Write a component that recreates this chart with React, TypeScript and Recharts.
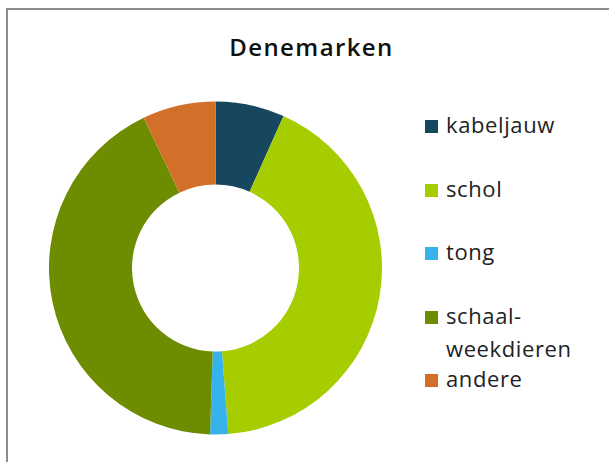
import React from 'react';
import { PieChart, Pie, Cell, Legend } from 'recharts';

const categories = ['kabeljauw', 'schol', 'tong', 'schaal-weekdieren', 'andere'];
const shares = [6.7, 42.1, 1.75, 42.4, 7.1];
const colors = ['#17475e', '#a5cd00', '#36b3ea', '#6e8c00', '#d2702a'];

const data = categories.map((name, i) => ({ name, value: shares[i] }));

const FONT = '"Open Sans", "Noto Sans", sans-serif';

// legend keeps the data order (recharts sorts the payload by name)
const renderLegend = () => (
  <div style={{ position: 'relative', fontFamily: FONT, fontSize: 22, lineHeight: '33px', color: '#222' }}>
    {categories.map((label, i) => {
      const lines = label.includes('-') ? [label.split('-')[0] + '-', label.split('-')[1]] : [label];
      return (
        <div key={label} style={{ position: 'absolute', left: 0, top: i * 63.5, width: 180 }}>
          <span
            style={{
              position: 'absolute',
              left: 0,
              top: 12,
              width: 13,
              height: 13,
              background: colors[i],
            }}
          />
          <div style={{ marginLeft: 21, letterSpacing: 0.6 }}>
            {lines.map((l) => (
              <div key={l}>{l}</div>
            ))}
          </div>
        </div>
      );
    })}
  </div>
);

export default function App() {
  return (
    <div style={{ position: 'fixed', left: 0, top: 0, width: 609, height: 462, overflow: 'hidden', background: '#fff' }}>
      <div
        style={{
          position: 'absolute',
          left: 6,
          top: 8,
          width: 700,
          height: 600,
          borderLeft: '2px solid #8c8c8c',
          borderTop: '2px solid #8c8c8c',
        }}
      />
      <div
        style={{
          position: 'absolute',
          left: 0,
          top: 29,
          width: 623,
          textAlign: 'center',
          fontFamily: FONT,
          fontSize: 24,
          fontWeight: 600,
          letterSpacing: 1.4,
          color: '#111',
          lineHeight: '36px',
        }}
      >
        Denemarken
      </div>
      <div style={{ position: 'absolute', left: 0, top: 0 }}>
        <PieChart width={609} height={462} margin={{ top: 0, right: 0, bottom: 0, left: 0 }}>
          <Pie
            data={data}
            dataKey="value"
            nameKey="name"
            cx={215.5}
            cy={268}
            innerRadius={83.5}
            outerRadius={166.5}
            startAngle={90}
            endAngle={-270}
            stroke="none"
            isAnimationActive={false}
          >
            {data.map((d, i) => (
              <Cell key={d.name} fill={colors[i]} />
            ))}
          </Pie>
          <Legend
            layout="vertical"
            align="right"
            verticalAlign="top"
            content={renderLegend}
            wrapperStyle={{ left: 425, top: 108, width: 180, height: 300 }}
          />
        </PieChart>
      </div>
    </div>
  );
}
